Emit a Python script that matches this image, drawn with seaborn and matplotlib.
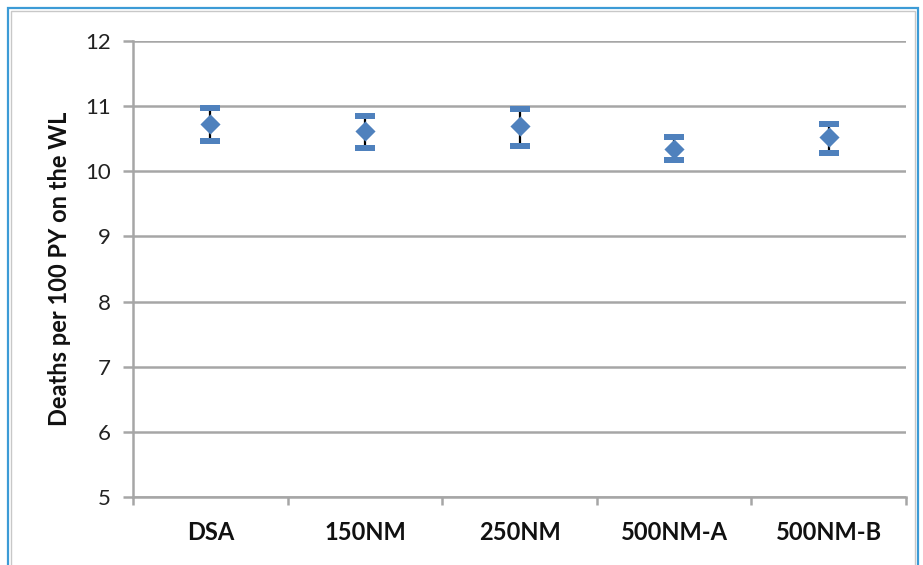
import matplotlib
matplotlib.use("Agg")
import matplotlib.pyplot as plt
import seaborn as sns
import pandas as pd
import numpy as np
from matplotlib.patches import Rectangle

# Death rates on the waiting list by allocation scenario
categories = ["DSA", "150NM", "250NM", "500NM-A", "500NM-B"]
rate = [10.73, 10.62, 10.70, 10.34, 10.53]
lower = [10.46, 10.35, 10.39, 10.17, 10.28]
upper = [10.97, 10.85, 10.96, 10.53, 10.72]
yticks = [5, 6, 7, 8, 9, 10, 11, 12]

sns.set_theme(style="white")
plt.rcParams["font.family"] = ["Lato", "DejaVu Sans"]

blue = "#4F81BD"
grid_gray = "#A6A6A6"

fig = plt.figure(figsize=(9.23, 5.65), dpi=100)
ax = fig.add_axes([133 / 923, 68 / 565, 773 / 923, 456 / 565])

df = pd.DataFrame({"scenario": categories, "rate": rate,
                   "lo": lower, "hi": upper})
xpos = np.arange(len(categories))

# whiskers
ax.errorbar(xpos, df["rate"],
            yerr=[df["rate"] - df["lo"], df["hi"] - df["rate"]],
            fmt="none", ecolor="black", elinewidth=1.6, capsize=0, zorder=3)

# caps as flat blue bars
cap = [(-1, -0.28), (1, -0.28), (1, 0.28), (-1, 0.28), (-1, -0.28)]
ax.plot(xpos, df["hi"], linestyle="none", marker=cap, markersize=15,
        color=blue, markeredgewidth=0, zorder=4)
ax.plot(xpos, df["lo"], linestyle="none", marker=cap, markersize=15,
        color=blue, markeredgewidth=0, zorder=4)

# point estimates
sns.scatterplot(x=xpos, y=df["rate"], marker="D", s=105, color=blue,
                edgecolor=blue, linewidth=0, zorder=5, ax=ax)

ax.set_xlim(-0.5, len(categories) - 0.5)
ax.set_ylim(5, 12)
ax.set_yticks(yticks)
ax.set_yticklabels([str(t) for t in yticks], fontsize=16, color="#222222")
ax.yaxis.grid(True, color=grid_gray, linewidth=1.8)
ax.set_axisbelow(True)

# category boundaries as ticks, names centred between them
ax.set_xticks(np.arange(-0.5, len(categories), 1.0))
ax.set_xticklabels([])
ax.set_xticks(xpos, minor=True)
ax.set_xticklabels(categories, minor=True, fontsize=17, fontweight="bold",
                   color="#111111")
ax.tick_params(axis="x", which="major", length=6, width=1.8,
               color=grid_gray, direction="out", bottom=True)
ax.tick_params(axis="x", which="minor", length=0, pad=17)
ax.tick_params(axis="y", length=7, width=1.8, color=grid_gray,
               direction="out", left=True, pad=9)

for side in ["top", "right"]:
    ax.spines[side].set_visible(False)
for side in ["left", "bottom"]:
    ax.spines[side].set_color(grid_gray)
    ax.spines[side].set_linewidth(1.8)

ax.set_xlabel("")
ax.set_ylabel("Deaths per 100 PY on the WL", fontsize=17, fontweight="bold",
              color="#111111", labelpad=10)

# chart frame
fig.patches.append(Rectangle((8 / 923, -0.05), 910 / 923, 1.05 - 8 / 565,
                             transform=fig.transFigure, fill=False,
                             edgecolor="#3C9BD6", linewidth=1.6))
fig.patches.append(Rectangle((11 / 923, -0.05), 904 / 923, 1.05 - 11 / 565,
                             transform=fig.transFigure, fill=False,
                             edgecolor="#C8C8C8", linewidth=1.0))

fig.savefig("out.png", dpi=100)
